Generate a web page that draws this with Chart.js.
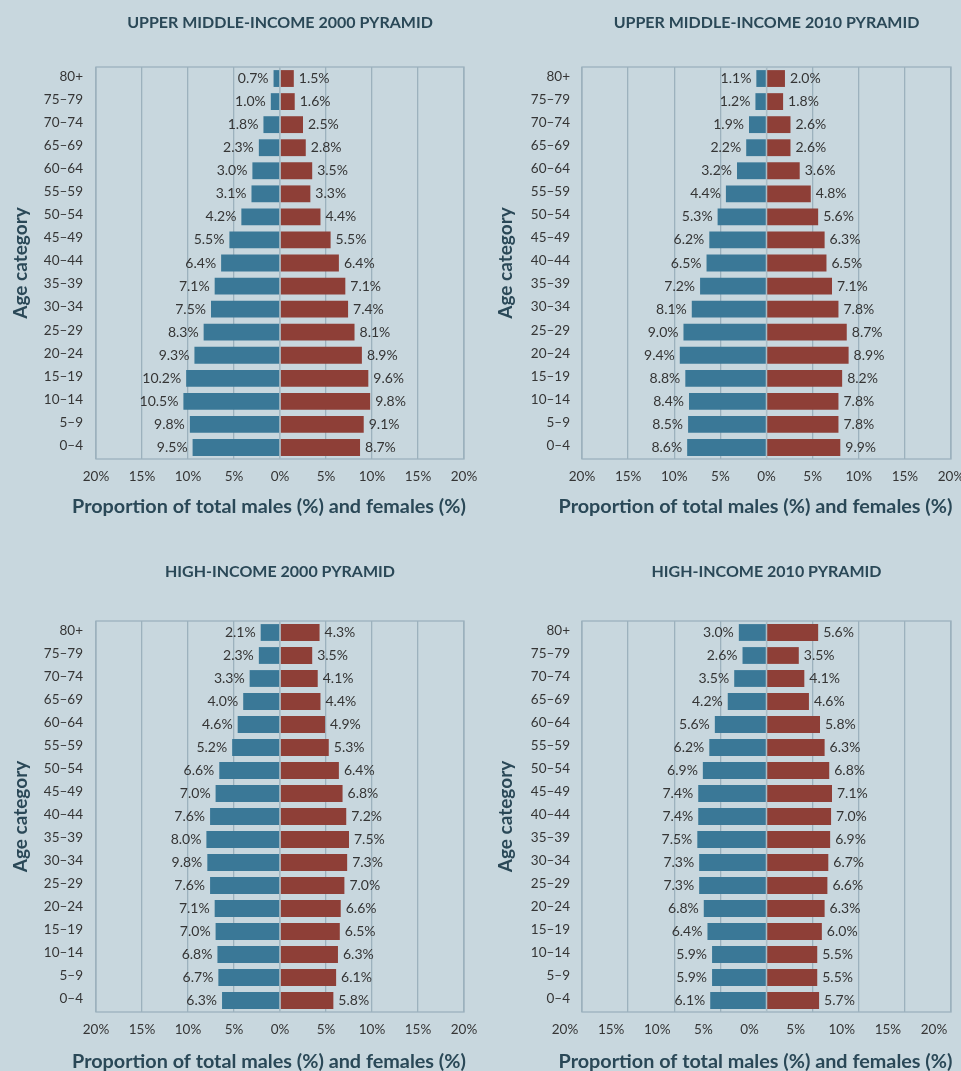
<!DOCTYPE html>
<html>
<head>
<meta charset="utf-8">
<title>Population pyramids</title>
<script src="https://cdn.jsdelivr.net/npm/chart.js@4.4.1/dist/chart.umd.min.js"></script>
<style>
  html, body { margin: 0; padding: 0; }
  body { width: 961px; height: 1071px; overflow: hidden; background: #c8d7de; position: relative; }
  canvas { position: absolute; }
</style>
</head>
<body>
<canvas id="um2000" width="480" height="530" style="left:0;top:0"></canvas>
<canvas id="um2010" width="490" height="530" style="left:480px;top:0"></canvas>
<canvas id="hi2000" width="480" height="532" style="left:0;top:540px"></canvas>
<canvas id="hi2010" width="490" height="532" style="left:480px;top:540px"></canvas>
<script>
// age groups, top of the pyramid first
const ageGroups = ["80+", "75–79", "70–74", "65–69", "60–64", "55–59", "50–54", "45–49",
  "40–44", "35–39", "30–34", "25–29", "20–24", "15–19", "10–14", "5–9", "0–4"];
const xTicks = [-20, -15, -10, -5, 0, 5, 10, 15, 20];

// upper middle-income 2000
const um2000Male = [0.7, 1.0, 1.8, 2.3, 3.0, 3.1, 4.2, 5.5, 6.4, 7.1, 7.5, 8.3, 9.3, 10.2, 10.5, 9.8, 9.5];
const um2000Female = [1.5, 1.6, 2.5, 2.8, 3.5, 3.3, 4.4, 5.5, 6.4, 7.1, 7.4, 8.1, 8.9, 9.6, 9.8, 9.1, 8.7];

// upper middle-income 2010 (the 0-4 female bar is drawn shorter than its label says)
const um2010Male = [1.1, 1.2, 1.9, 2.2, 3.2, 4.4, 5.3, 6.2, 6.5, 7.2, 8.1, 9.0, 9.4, 8.8, 8.4, 8.5, 8.6];
const um2010Female = [2.0, 1.8, 2.6, 2.6, 3.6, 4.8, 5.6, 6.3, 6.5, 7.1, 7.8, 8.7, 8.9, 8.2, 7.8, 7.8, 8.0];
const um2010FemaleLabels = [2.0, 1.8, 2.6, 2.6, 3.6, 4.8, 5.6, 6.3, 6.5, 7.1, 7.8, 8.7, 8.9, 8.2, 7.8, 7.8, 9.9];

// high-income 2000 (30-34 male bar is shorter than its label)
const hi2000Male = [2.1, 2.3, 3.3, 4.0, 4.6, 5.2, 6.6, 7.0, 7.6, 8.0, 7.9, 7.6, 7.1, 7.0, 6.8, 6.7, 6.3];
const hi2000MaleLabels = [2.1, 2.3, 3.3, 4.0, 4.6, 5.2, 6.6, 7.0, 7.6, 8.0, 9.8, 7.6, 7.1, 7.0, 6.8, 6.7, 6.3];
const hi2000Female = [4.3, 3.5, 4.1, 4.4, 4.9, 5.3, 6.4, 6.8, 7.2, 7.5, 7.3, 7.0, 6.6, 6.5, 6.3, 6.1, 5.8];

// high-income 2010
const hi2010Male = [3.0, 2.6, 3.5, 4.2, 5.6, 6.2, 6.9, 7.4, 7.4, 7.5, 7.3, 7.3, 6.8, 6.4, 5.9, 5.9, 6.1];
const hi2010Female = [5.6, 3.5, 4.1, 4.6, 5.8, 6.3, 6.8, 7.1, 7.0, 6.9, 6.7, 6.6, 6.3, 6.0, 5.5, 5.5, 5.7];

const MALE_COLOR = "#3a7897";
const FEMALE_COLOR = "#8e3f37";
const GRID_COLOR = "#9cb1bd";
const TITLE_COLOR = "#2a4857";
const TEXT_COLOR = "#353535";
const X_TITLE = "Proportion of total males (%) and females (%)";

// box round the plot and the 0% line over the bars
const frame = {
  id: "frame",
  afterDatasetsDraw(chart) {
    const { ctx, chartArea: a } = chart;
    const zero = chart.scales.x.getPixelForValue(0);
    ctx.save();
    ctx.strokeStyle = GRID_COLOR;
    ctx.lineWidth = 1.3;
    ctx.strokeRect(a.left, a.top, a.right - a.left, a.bottom - a.top);
    ctx.strokeStyle = "#a9bcc6";
    ctx.lineWidth = 1.2;
    ctx.beginPath();
    ctx.moveTo(zero, a.top);
    ctx.lineTo(zero, a.bottom);
    ctx.stroke();
    ctx.restore();
  }
};

// percentage text at the end of each bar
const barLabels = {
  id: "barLabels",
  afterDatasetsDraw(chart) {
    const ctx = chart.ctx;
    ctx.save();
    ctx.font = "14px Lato";
    ctx.fillStyle = TEXT_COLOR;
    ctx.textBaseline = "middle";
    chart.data.datasets.forEach((ds, i) => {
      chart.getDatasetMeta(i).data.forEach((bar, j) => {
        const left = ds.data[j] < 0;
        ctx.textAlign = left ? "right" : "left";
        ctx.fillText(ds.shown[j].toFixed(1) + "%", bar.x + (left ? -5 : 5), bar.y);
      });
    });
    ctx.restore();
  }
};

// chart heading centred over the plot, x-axis heading under the ticks
const headings = {
  id: "headings",
  afterDraw(chart, args, opts) {
    const { ctx, chartArea: a } = chart;
    const mid = (a.left + a.right) / 2;
    ctx.save();
    ctx.fillStyle = TITLE_COLOR;
    ctx.textAlign = "center";
    ctx.textBaseline = "middle";
    ctx.font = "bold 16px Lato";
    ctx.fillText(opts.text, mid, opts.titleY);
    ctx.font = "bold 19.8px Lato";
    ctx.fillText(X_TITLE, mid - 11, opts.xTitleY);
    ctx.restore();
  }
};

function pyramid(id, title, male, female, maleShown, femaleShown, opt) {
  return new Chart(document.getElementById(id), {
    type: "bar",
    data: {
      labels: ageGroups,
      datasets: [
        { label: "Males", data: male.map(v => -v), shown: maleShown, backgroundColor: MALE_COLOR },
        { label: "Females", data: female, shown: femaleShown, backgroundColor: FEMALE_COLOR }
      ]
    },
    options: {
      indexAxis: "y",
      responsive: false,
      animation: false,
      barPercentage: 0.73,
      categoryPercentage: 1,
      layout: { padding: { top: opt.top, left: 0, right: opt.right, bottom: 0 } },
      plugins: {
        legend: { display: false },
        tooltip: { enabled: false },
        title: { display: false },
        headings: { text: title, titleY: opt.titleY, xTitleY: opt.xTitleY }
      },
      scales: {
        x: {
          stacked: true,
          min: -20,
          max: 20,
          afterBuildTicks: s => { s.ticks = xTicks.map(v => ({ value: v })); },
          afterFit: s => {
            s.height = opt.xHeight;
            s.paddingLeft = 0;
            s.paddingRight = 0;
          },
          grid: { color: GRID_COLOR, lineWidth: 1.3, drawTicks: false },
          border: { display: false },
          ticks: {
            padding: 10,
            color: TEXT_COLOR,
            labelOffset: opt.labelOffset || 0,
            font: { family: "Lato", size: 13.5 },
            callback: v => Math.abs(v) + "%"
          }
        },
        y: {
          stacked: true,
          afterFit: s => {
            s.width = opt.yWidth;
            s.paddingTop = 0;
            s.paddingBottom = 0;
          },
          grid: { display: false, drawTicks: false },
          border: { display: false },
          ticks: { padding: opt.yPad, labelOffset: -2, color: TEXT_COLOR, font: { family: "Lato", size: 13.5 } },
          title: {
            display: true,
            text: "Age category",
            color: TITLE_COLOR,
            font: { family: "Lato", size: 19, weight: "bold" },
            padding: { top: opt.yTitleTop, bottom: 0 }
          }
        }
      }
    },
    plugins: [frame, barLabels, headings]
  });
}

const topLeft = { top: 67, right: 16, titleY: 23, xTitleY: 507, xHeight: 71, yWidth: 96, yPad: 13, yTitleTop: 9 };
const topRight = { top: 67, right: 19, titleY: 23, xTitleY: 507, xHeight: 71, yWidth: 102, yPad: 12, yTitleTop: 14 };
const botLeft = { top: 81, right: 16, titleY: 32, xTitleY: 522, xHeight: 60, yWidth: 96, yPad: 13, yTitleTop: 9 };
const botRight = { top: 81, right: 19, titleY: 32, xTitleY: 522, xHeight: 60, yWidth: 102, yPad: 12, yTitleTop: 14, labelOffset: -17 };

pyramid("um2000", "UPPER MIDDLE-INCOME 2000 PYRAMID", um2000Male, um2000Female, um2000Male, um2000Female, topLeft);
pyramid("um2010", "UPPER MIDDLE-INCOME 2010 PYRAMID", um2010Male, um2010Female, um2010Male, um2010FemaleLabels, topRight);
pyramid("hi2000", "HIGH-INCOME 2000 PYRAMID", hi2000Male, hi2000Female, hi2000MaleLabels, hi2000Female, botLeft);
pyramid("hi2010", "HIGH-INCOME 2010 PYRAMID", hi2010Male, hi2010Female, hi2010Male, hi2010Female, botRight);
</script>
</body>
</html>
